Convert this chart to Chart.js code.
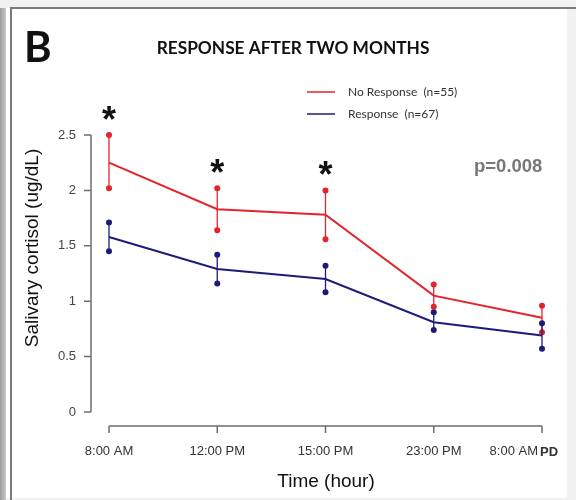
<!DOCTYPE html>
<html>
<head>
<meta charset="utf-8">
<script src="https://cdn.jsdelivr.net/npm/chart.js@4/dist/chart.umd.min.js"></script>
<style>
  html, body { margin: 0; padding: 0; background: #f2f2f2; }
  #wrap { width: 576px; height: 500px; }
</style>
</head>
<body>
<div id="wrap"><canvas id="c" width="576" height="500"></canvas></div>
<script>
// Sampling times
const times = ['8:00 AM', '12:00 PM', '15:00 PM', '23:00 PM', '8:00 AM'];
// No Response group (n=55): mean and error bar ends
const noRespMean = [2.25, 1.83, 1.78, 1.05, 0.85];
const noRespLow  = [2.02, 1.64, 1.56, 0.95, 0.72];
const noRespHigh = [2.50, 2.02, 2.00, 1.15, 0.96];
// Response group (n=67): mean and error bar ends
const respMean = [1.58, 1.29, 1.20, 0.81, 0.69];
const respLow  = [1.45, 1.16, 1.08, 0.74, 0.57];
const respHigh = [1.71, 1.42, 1.32, 0.90, 0.80];
// Time points with a significant difference
const significant = [true, true, true, false, false];
const yTickValues = [0, 0.5, 1, 1.5, 2, 2.5];

const RED = '#e3242b';
const BLUE = '#1c1c78';
const AXIS = '#6e6e6e';
const SANS = '"Liberation Sans", Arial, sans-serif';
const CAL = 'Lato, "Open Sans", sans-serif';

const errorBars = [
  { color: RED, low: noRespLow, high: noRespHigh },
  { color: BLUE, low: respLow, high: respHigh }
];

const frame = {
  id: 'frame',
  beforeDraw(chart) {
    const ctx = chart.ctx;
    ctx.save();
    ctx.fillStyle = '#f1f1f1';
    ctx.fillRect(0, 0, 576, 500);
    const g = ctx.createLinearGradient(0, 0, 6, 0);
    g.addColorStop(0, '#9c9c9c');
    g.addColorStop(1, '#c9c9c9');
    ctx.fillStyle = g;
    ctx.fillRect(0, 8, 6, 492);
    ctx.fillStyle = '#ffffff';
    ctx.fillRect(6, 8, 561, 490);
    ctx.strokeStyle = '#7a7a7a';
    ctx.lineWidth = 2;
    ctx.beginPath();
    ctx.moveTo(11, 500);
    ctx.lineTo(11, 8);
    ctx.lineTo(576, 8);
    ctx.stroke();
    ctx.restore();
  }
};

const decorations = {
  id: 'decorations',
  afterDatasetsDraw(chart) {
    const ctx = chart.ctx;
    const xs = chart.scales.x, ys = chart.scales.y;
    const area = chart.chartArea;
    ctx.save();

    // error bars with end dots
    errorBars.forEach(s => {
      ctx.strokeStyle = s.color;
      ctx.fillStyle = s.color;
      ctx.lineWidth = 1.3;
      times.forEach((t, i) => {
        const x = xs.getPixelForValue(i);
        const y1 = ys.getPixelForValue(s.low[i]);
        const y2 = ys.getPixelForValue(s.high[i]);
        ctx.beginPath();
        ctx.moveTo(x, y1);
        ctx.lineTo(x, y2);
        ctx.stroke();
        [y1, y2].forEach(y => {
          ctx.beginPath();
          ctx.arc(x, y, 3, 0, Math.PI * 2);
          ctx.fill();
        });
      });
    });

    // y axis (offset from plot)
    ctx.strokeStyle = AXIS;
    ctx.lineWidth = 1.5;
    const ax = area.left - 18;
    ctx.beginPath();
    ctx.moveTo(ax, ys.getPixelForValue(0));
    ctx.lineTo(ax, ys.getPixelForValue(2.5));
    yTickValues.forEach(v => {
      const y = ys.getPixelForValue(v);
      ctx.moveTo(ax, y);
      ctx.lineTo(ax - 7, y);
    });
    ctx.stroke();

    // x axis (offset below plot)
    const ay = area.bottom + 14;
    ctx.beginPath();
    ctx.moveTo(xs.getPixelForValue(0), ay);
    ctx.lineTo(xs.getPixelForValue(times.length - 1), ay);
    times.forEach((t, i) => {
      const x = xs.getPixelForValue(i);
      ctx.moveTo(x, ay);
      ctx.lineTo(x, ay + 7);
    });
    ctx.stroke();

    // x tick labels
    ctx.fillStyle = '#333';
    ctx.textBaseline = 'middle';
    ctx.font = '13px ' + SANS;
    times.forEach((t, i) => {
      const x = xs.getPixelForValue(i);
      if (i === times.length - 1) {
        ctx.textAlign = 'right';
        ctx.fillText(t, x - 4, ay + 25);
        ctx.textAlign = 'left';
        ctx.font = 'bold 13px ' + SANS;
        ctx.fillText('PD', x - 2, ay + 26);
        ctx.font = '13px ' + SANS;
      } else {
        ctx.textAlign = 'center';
        ctx.fillText(t, x, ay + 25);
      }
    });

    // axis titles
    ctx.fillStyle = '#111';
    ctx.font = '19px ' + SANS;
    ctx.textAlign = 'center';
    ctx.fillText('Time (hour)', 326, 482);
    ctx.save();
    ctx.translate(33, 248);
    ctx.rotate(-Math.PI / 2);
    ctx.fillText('Salivary cortisol (ug/dL)', 0, 0);
    ctx.restore();

    // significance markers
    ctx.fillStyle = '#111';
    ctx.font = 'bold 36px ' + SANS;
    ctx.textAlign = 'center';
    ctx.textBaseline = 'alphabetic';
    significant.forEach((s, i) => {
      if (!s) return;
      const x = xs.getPixelForValue(i);
      const y = ys.getPixelForValue(noRespHigh[i]) - 22;
      ctx.fillText('*', x, y + 19);
    });

    // p-value
    ctx.fillStyle = '#777';
    ctx.font = 'bold 18.5px ' + SANS;
    ctx.textAlign = 'left';
    ctx.textBaseline = 'middle';
    ctx.fillText('p=0.008', 474, 167);

    // legend
    const legend = [
      { color: RED, text: 'No Response  (n=55)', y: 92 },
      { color: BLUE, text: 'Response  (n=67)', y: 114 }
    ];
    ctx.lineWidth = 1.5;
    ctx.font = '12px ' + CAL;
    legend.forEach(l => {
      ctx.strokeStyle = l.color;
      ctx.beginPath();
      ctx.moveTo(307, l.y);
      ctx.lineTo(335, l.y);
      ctx.stroke();
      ctx.fillStyle = '#333';
      ctx.fillText(l.text, 348, l.y);
    });

    // headings
    ctx.fillStyle = '#111';
    ctx.font = 'bold 17.3px ' + CAL;
    ctx.textAlign = 'center';
    ctx.fillText('RESPONSE AFTER TWO MONTHS', 293, 48);
    ctx.font = 'bold 42px ' + CAL;
    ctx.textAlign = 'left';
    ctx.textBaseline = 'alphabetic';
    ctx.fillText('B', 24, 62);

    ctx.restore();
  }
};

new Chart(document.getElementById('c'), {
  type: 'line',
  data: {
    labels: times,
    datasets: [
      { label: 'No Response (n=55)', data: noRespMean, borderColor: RED, borderWidth: 2, pointRadius: 0, tension: 0 },
      { label: 'Response (n=67)', data: respMean, borderColor: BLUE, borderWidth: 2, pointRadius: 0, tension: 0 }
    ]
  },
  options: {
    responsive: false,
    animation: false,
    layout: { padding: { top: 135, right: 34, left: 0, bottom: 0 } },
    plugins: { legend: { display: false }, tooltip: { enabled: false } },
    scales: {
      x: {
        type: 'category',
        offset: false,
        grid: { display: false, drawTicks: false },
        border: { display: false },
        ticks: { display: false },
        afterFit(s) { s.height = 88; }
      },
      y: {
        min: 0,
        max: 2.5,
        grid: { display: false, drawTicks: false },
        border: { display: false },
        ticks: {
          stepSize: 0.5,
          padding: 33,
          color: '#444',
          font: { family: SANS, size: 13 },
          callback: v => String(v)
        },
        afterFit(s) { s.width = 109; }
      }
    }
  },
  plugins: [frame, decorations]
});
</script>
</body>
</html>
